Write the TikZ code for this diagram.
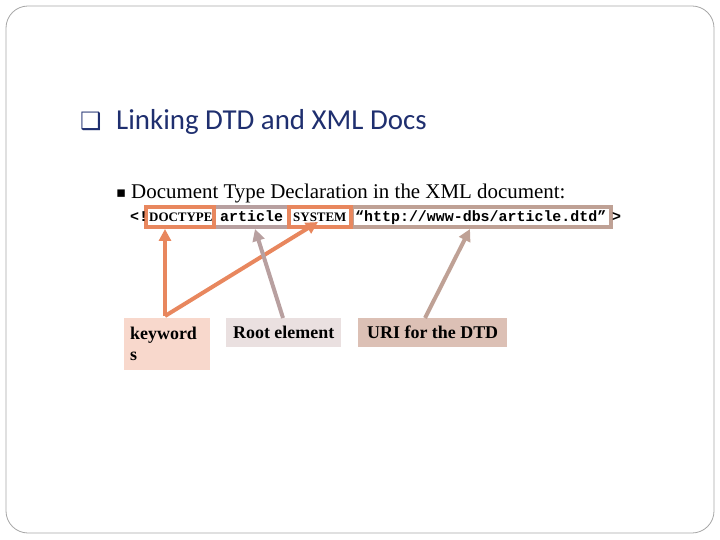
\documentclass[tikz,border=0pt]{standalone}
\usepackage{fontspec}
\setmainfont{Liberation Serif}
\newfontfamily\carl{Carlito}
\newfontfamily\dv{DejaVu Sans}
\newfontfamily\cour{Liberation Mono}
\usetikzlibrary{arrows.meta}
\definecolor{orng}{HTML}{E8875E}
\definecolor{mauv}{HTML}{B8A0A0}
\definecolor{brwn}{HTML}{BFA195}
\definecolor{kwf}{HTML}{F8D8CC}
\definecolor{rtf}{HTML}{EAE0E0}
\definecolor{urf}{HTML}{DCC0B5}
\definecolor{navy}{HTML}{1F2F6F}
\tikzset{
  hbox/.style={line width=4bp,fill=white},
  lab/.style={anchor=north west,inner xsep=6bp,inner ysep=6bp,font=\fontsize{18}{21}\selectfont\bfseries,align=left},
  arr/.style={line width=4bp,-{Triangle[length=12bp,width=12bp]}},
  code/.style={inner sep=0pt,anchor=base west,font=\cour\fontsize{15}{17}\selectfont\bfseries}
}
\begin{document}
\begin{tikzpicture}[x=1bp,y=-1bp]
\useasboundingbox (0,0) rectangle (720,540);
\draw[gray!70,line width=0.8bp,rounded corners=22bp] (6,6) rectangle (714,533);
\node[anchor=base west,inner sep=0pt,text=navy,font=\dv\fontsize{24}{28}\selectfont] (tb) at (80,130) {❑};
\node[anchor=base west,inner sep=0pt,text=navy,font=\carl\fontsize{29}{34}\selectfont] (title) at (116,130) {Linking DTD and XML Docs};
\node[anchor=base west,inner sep=0pt,font=\dv\fontsize{15}{18}\selectfont] (b1) at (116,198) {▪};
\node[anchor=base west,inner sep=0pt,font=\fontsize{21}{25}\selectfont] (l1) at (131,199) {Document Type Declaration in the XML document:};
% highlight boxes
\draw[hbox,draw=brwn] (352,207) rectangle (611,227);
\draw[hbox,draw=mauv] (214,207) rectangle (289,227);
\draw[hbox,draw=orng] (146,207) rectangle (214,227);
\draw[hbox,draw=orng] (289,207) rectangle (351,227);
\coordinate (dA) at (165,229);
\coordinate (sA) at (318,222);
\coordinate (rA) at (255,229);
\coordinate (uA) at (470,229);
\node[code] (lt) at (130,222) {<!};
\node[inner sep=0pt,anchor=base west,font=\fontsize{13}{15}\selectfont\bfseries] (dt) at (149,222) {DOCTYPE};
\node[code] (ar) at (220,222) {article};
\node[inner sep=0pt,anchor=base west,font=\fontsize{13}{15}\selectfont\bfseries] (sy) at (293,222) {SYSTEM};
\node[code] (ur) at (355,222) {“http://www-dbs/article.dtd”};
\node[code] (gt) at (612,222) {>};
% labels
\node[lab,fill=kwf,minimum width=86bp,minimum height=52bp,text width=74bp] (kw) at (124,318) {keyword\\s};
\node[lab,fill=rtf,minimum width=115bp,minimum height=29bp] (rt) at (226,318) {Root element};
\node[lab,fill=urf,minimum width=149bp,minimum height=29bp] (ui) at (358,318) {URI for the DTD};
\coordinate (kt) at (165,316);
\draw[arr,orng] (kt) -- (dA);
\draw[arr,orng] (kt) -- (sA);
\draw[arr,mauv] (283,318) -- (rA);
\draw[arr,brwn] (425,318) -- (uA);
\end{tikzpicture}
\end{document}
